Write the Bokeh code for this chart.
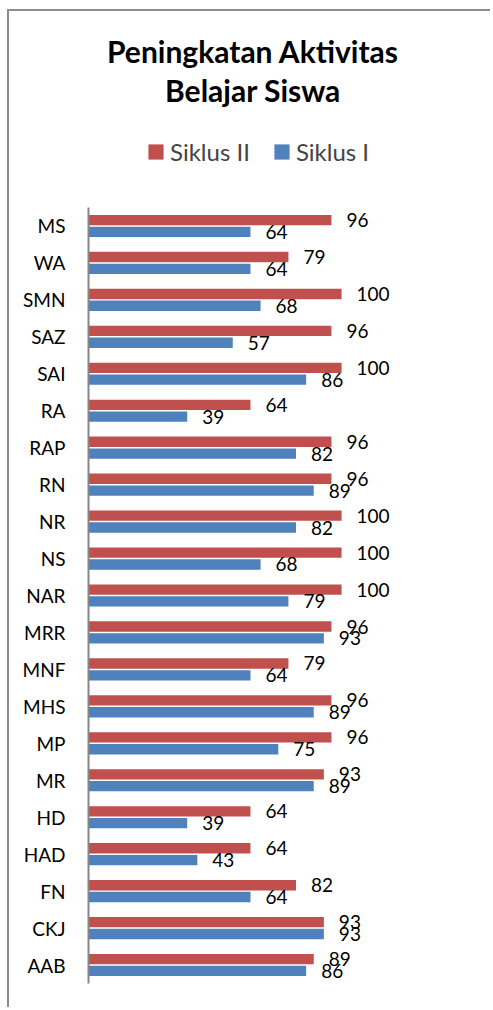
from bokeh.plotting import figure
from bokeh.models import ColumnDataSource, Legend, Range1d, FixedTicker, Label
from bokeh.transform import dodge
from bokeh.core.properties import value
from bokeh.embed import file_html
from bokeh.resources import INLINE

# Data (top to bottom as in the chart)
names = ["MS", "WA", "SMN", "SAZ", "SAI", "RA", "RAP", "RN", "NR", "NS", "NAR",
         "MRR", "MNF", "MHS", "MP", "MR", "HD", "HAD", "FN", "CKJ", "AAB"]
siklus_2 = [96, 79, 100, 96, 100, 64, 96, 96, 100, 100, 100,
            96, 79, 96, 96, 93, 64, 64, 82, 93, 89]
siklus_1 = [64, 64, 68, 57, 86, 39, 82, 89, 82, 68, 79,
            93, 64, 89, 75, 89, 39, 43, 64, 93, 86]
title_lines = ["Peningkatan Aktivitas", "Belajar Siswa"]
series_names = ["Siklus II", "Siklus I"]

RED = "#C0504D"
BLUE = "#4F81BD"
FONT = "Lato"

n = len(names)
pos = [n - 1 - i for i in range(n)]  # MS at top

src = ColumnDataSource(dict(
    pos=pos, s2=siklus_2, s1=siklus_1,
    l2=[str(v) for v in siklus_2], l1=[str(v) for v in siklus_1],
))

BAND = 36.952          # px per category
TOP_PAD = 196 / BAND   # space above the first category (in category units)
top = n - 0.5 + TOP_PAD

p = figure(
    width=483, height=998, title=None,
    y_range=Range1d(-0.5, top),
    x_range=Range1d(0, 130),
    x_axis_location=None,
    output_backend="svg", toolbar_location=None,
    min_border_left=79, min_border_right=75, min_border_bottom=26, min_border_top=0,
)
p.margin = (9, 0, 0, 7)
p.outline_line_color = None
p.grid.visible = False
p.background_fill_color = "white"
p.border_fill_color = "white"
p.styles = {"border-left": "2px solid #8c8c8c", "border-top": "2px solid #8c8c8c"}

r2 = p.hbar(y=dodge("pos", 0.16), right="s2", left=0, height=0.28,
            source=src, fill_color=RED, line_color=None)
r1 = p.hbar(y=dodge("pos", -0.16), right="s1", left=0, height=0.28,
            source=src, fill_color=BLUE, line_color=None)

p.text(x="s2", y=dodge("pos", 0.16), text="l2", source=src,
       x_offset=15, text_baseline="middle", text_align="left",
       text_font=value(FONT), text_font_size="19px", text_color="black")
p.text(x="s1", y=dodge("pos", -0.16), text="l1", source=src,
       x_offset=15, text_baseline="middle", text_align="left",
       text_font=value(FONT), text_font_size="19px", text_color="black")

ax = p.yaxis[0]
ax.ticker = FixedTicker(ticks=pos)
ax.major_label_overrides = {p_: nm for p_, nm in zip(pos, names)}
ax.bounds = (-0.5, n - 0.5)
ax.axis_line_color = "#868686"
ax.axis_line_width = 2
ax.major_tick_line_color = None
ax.minor_tick_line_color = None
ax.major_label_text_font = FONT
ax.major_label_text_font_size = "19px"
ax.major_label_text_color = "black"
ax.major_label_standoff = 17

for txt, ypx in zip(title_lines, [39, 78]):
    p.add_layout(Label(x=65, y=top - ypx / BAND, text=txt, text_align="center",
                       text_baseline="alphabetic", text_font=FONT,
                       text_font_style="bold", text_font_size="30px",
                       text_color="black"))

legend = Legend(items=[(series_names[0], [r2]), (series_names[1], [r1])],
                orientation="horizontal", location=(58, 817),
                label_text_font=FONT, label_text_font_size="24px",
                glyph_width=19, glyph_height=19, label_standoff=5, spacing=22,
                border_line_color=None, background_fill_alpha=0,
                padding=0, margin=0)
p.add_layout(legend)

open("out.html", "w").write(file_html(p, INLINE))
